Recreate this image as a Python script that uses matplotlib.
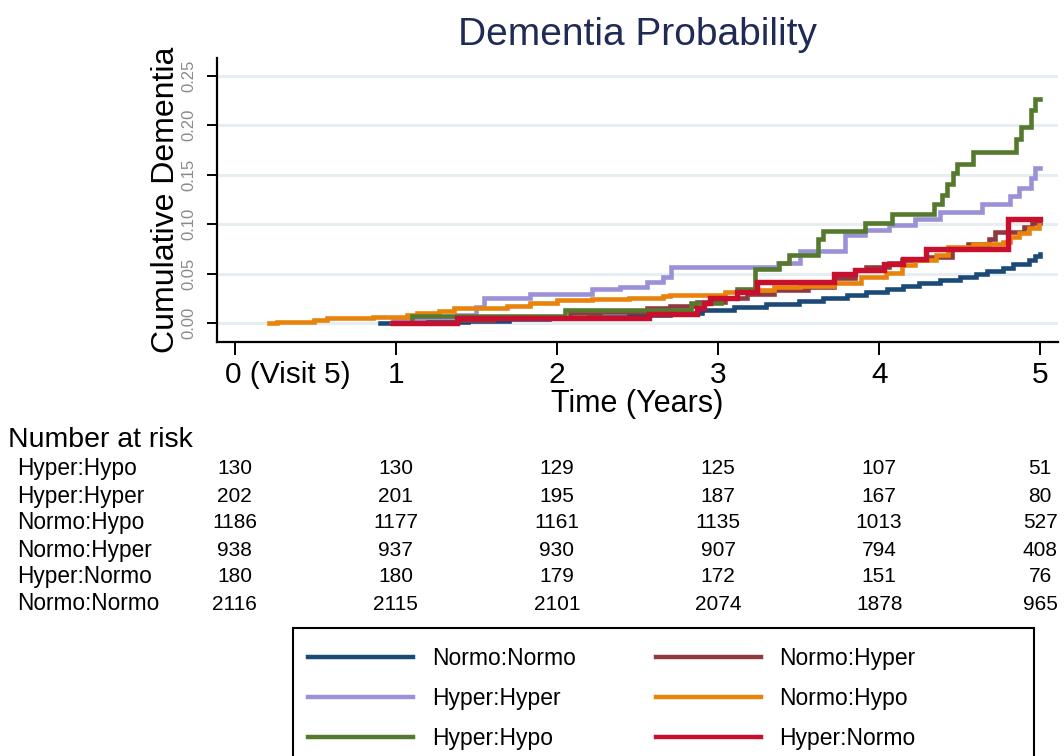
import matplotlib
matplotlib.use("Agg")
import matplotlib.pyplot as plt
import matplotlib.transforms as mtransforms
from matplotlib.patches import Rectangle

plt.rcParams['font.family'] = ['Liberation Sans', 'DejaVu Sans']

# ---------------- data ----------------
groups = ["Normo:Normo", "Hyper:Hyper", "Hyper:Hypo", "Normo:Hyper", "Normo:Hypo", "Hyper:Normo"]
colors = {"Normo:Normo": "#1c4a78", "Hyper:Hyper": "#9a91d8", "Hyper:Hypo": "#557a2e",
          "Normo:Hyper": "#8e3a40", "Normo:Hypo": "#e8830c", "Hyper:Normo": "#c8102e"}

t_nn = [0.90, 1.20, 1.45, 1.70, 1.95, 2.20, 2.45, 2.70, 2.90, 3.10, 3.30, 3.50, 3.65, 3.80, 3.92,
        4.05, 4.15, 4.25, 4.38, 4.50, 4.60, 4.67, 4.77, 4.83, 4.93, 4.97, 5.00]
y_nn = [0.000, 0.001, 0.002, 0.004, 0.005, 0.006, 0.008, 0.010, 0.013, 0.016, 0.019, 0.022, 0.025,
        0.029, 0.032, 0.035, 0.038, 0.041, 0.044, 0.047, 0.050, 0.053, 0.056, 0.060, 0.064, 0.068, 0.070]

t_hh = [0.98, 1.38, 1.50, 1.55, 1.83, 2.22, 2.39, 2.56, 2.66, 2.71, 3.37, 3.51, 3.79, 3.91, 4.06,
        4.22, 4.38, 4.64, 4.81, 4.87, 4.94, 4.97, 5.00]
y_hh = [0.004, 0.008, 0.016, 0.025, 0.030, 0.035, 0.037, 0.042, 0.047, 0.057, 0.061, 0.073, 0.0895,
        0.0946, 0.0997, 0.105, 0.112, 0.120, 0.1285, 0.137, 0.147, 0.157, 0.157]

t_hhypo = [1.00, 1.10, 2.05, 2.83, 3.02, 3.12, 3.23, 3.38, 3.44, 3.62, 3.65, 3.91, 4.08, 4.34, 4.39,
           4.42, 4.46, 4.48, 4.58, 4.85, 4.88, 4.94, 4.97, 5.00]
y_hhypo = [0.000, 0.0074, 0.0135, 0.020, 0.025, 0.035, 0.055, 0.061, 0.069, 0.085, 0.093, 0.101,
           0.110, 0.120, 0.130, 0.141, 0.152, 0.161, 0.173, 0.186, 0.198, 0.215, 0.227, 0.227]

t_nh = [0.97, 1.38, 1.60, 2.08, 2.27, 2.56, 2.70, 2.87, 3.04, 3.18, 3.35, 3.56, 3.72, 3.85, 3.92,
        4.06, 4.14, 4.29, 4.45, 4.55, 4.68, 4.72, 4.90, 4.95, 5.00]
y_nh = [0.000, 0.003, 0.005, 0.010, 0.011, 0.015, 0.0175, 0.0216, 0.025, 0.030, 0.0335, 0.037,
        0.0455, 0.054, 0.057, 0.061, 0.064, 0.067, 0.076, 0.080, 0.085, 0.092, 0.097, 0.101, 0.105]

t_nhypo = [0.21, 0.26, 0.49, 0.57, 0.86, 1.07, 1.13, 1.27, 1.36, 1.69, 1.83, 2.00, 2.22, 2.45, 2.66,
           2.70, 3.04, 3.18, 3.35, 3.51, 3.72, 3.89, 4.04, 4.14, 4.22, 4.35, 4.43, 4.58, 4.77, 4.81,
           4.87, 4.93, 4.99]
y_nhypo = [0.000, 0.001, 0.003, 0.005, 0.006, 0.008, 0.010, 0.012, 0.015, 0.017, 0.020, 0.023, 0.024,
           0.025, 0.027, 0.029, 0.032, 0.034, 0.037, 0.038, 0.041, 0.047, 0.051, 0.059, 0.064, 0.069,
           0.077, 0.080, 0.082, 0.087, 0.091, 0.096, 0.099]

t_hn = [0.98, 1.38, 2.57, 2.87, 2.91, 2.95, 3.12, 3.24, 3.72, 3.85, 4.03, 4.15, 4.29, 4.80, 5.00]
y_hn = [0.000, 0.005, 0.0097, 0.015, 0.020, 0.0257, 0.032, 0.042, 0.0496, 0.054, 0.060, 0.065,
        0.075, 0.105, 0.105]

curves = {"Normo:Normo": (t_nn, y_nn), "Hyper:Hyper": (t_hh, y_hh), "Hyper:Hypo": (t_hhypo, y_hhypo),
          "Normo:Hyper": (t_nh, y_nh), "Normo:Hypo": (t_nhypo, y_nhypo), "Hyper:Normo": (t_hn, y_hn)}

x_ticks = [0, 1, 2, 3, 4, 5]
x_ticklabels = ["0 (Visit 5)", "1", "2", "3", "4", "5"]
y_ticks = [0.00, 0.05, 0.10, 0.15, 0.20, 0.25]

risk_groups = ["Hyper:Hypo", "Hyper:Hyper", "Normo:Hypo", "Normo:Hyper", "Hyper:Normo", "Normo:Normo"]
risk_hyper_hypo = [130, 130, 129, 125, 107, 51]
risk_hyper_hyper = [202, 201, 195, 187, 167, 80]
risk_normo_hypo = [1186, 1177, 1161, 1135, 1013, 527]
risk_normo_hyper = [938, 937, 930, 907, 794, 408]
risk_hyper_normo = [180, 180, 179, 172, 151, 76]
risk_normo_normo = [2116, 2115, 2101, 2074, 1878, 965]
risk_values = [risk_hyper_hypo, risk_hyper_hyper, risk_normo_hypo, risk_normo_hyper,
               risk_hyper_normo, risk_normo_normo]

# ---------------- figure ----------------
W, H = 1064, 756
fig = plt.figure(figsize=(W / 100, H / 100), dpi=100)
ax = fig.add_axes([217 / W, 1 - 342 / H, (1058 - 217) / W, (342 - 58) / H])

zorders = {"Hyper:Hyper": 2, "Normo:Normo": 3, "Normo:Hyper": 3, "Normo:Hypo": 4,
           "Hyper:Hypo": 5, "Hyper:Normo": 6}
lws = {g: 3.3 for g in groups}
lws["Hyper:Normo"] = 3.9
lines = {}
for g in groups:
    t, y = curves[g]
    ln, = ax.plot(t, y, drawstyle='steps-post', color=colors[g], lw=lws[g],
                  zorder=zorders[g], label=g, solid_joinstyle='miter')
    lines[g] = ln

ax.set_xlim(-0.11, 5.11)
ax.set_ylim(-0.019, 0.268)
ax.set_xticks(x_ticks)
# the first label ("0 (Visit 5)") is drawn separately so that the "0" sits on its tick
ax.set_xticklabels([""] + x_ticklabels[1:], fontsize=21.5)
ax.annotate(x_ticklabels[0], xy=(x_ticks[0], 0), xycoords=('data', 'axes fraction'),
            xytext=(-10, -19), textcoords='offset pixels', ha='left', va='top',
            fontsize=21.5, annotation_clip=False)
ax.set_yticks(y_ticks)
ax.set_yticklabels([f"{v:.2f}" for v in y_ticks], fontsize=12, color="#8a8a8a", rotation=90,
                   va='center')
for yv in y_ticks:
    ax.axhline(yv, color="#e6eef1", lw=2.2, zorder=0)

for s in ["top", "right"]:
    ax.spines[s].set_visible(False)
for s in ["left", "bottom"]:
    ax.spines[s].set_linewidth(1.6)
ax.tick_params(axis='x', length=9, width=1.4, pad=5)
ax.tick_params(axis='y', length=7, width=1.4, pad=8)

ax.set_xlabel("Time (Years)", fontsize=22, labelpad=0)
ax.set_ylabel("Cumulative Dementia", fontsize=23, labelpad=0)
fig.text(637 / W, 1 - 35 / H, "Dementia Probability", fontsize=28, color="#1f2a55",
         ha='center', va='center')

# ---------------- number at risk table ----------------
fig.text(8 / W, 1 - 440 / H, "Number at risk", fontsize=20.5, ha='left', va='center')
blend = mtransforms.blended_transform_factory(ax.transData, fig.transFigure)
row_y = [469, 496, 523, 550, 577, 604]
for name, vals, ry in zip(risk_groups, risk_values, row_y):
    fig.text(17 / W, 1 - ry / H, name, fontsize=16.3, ha='left', va='center')
    for xv, v in zip(x_ticks, vals):
        ax.text(xv, 1 - ry / H, str(v), fontsize=15, ha='center', va='center',
                transform=blend, clip_on=False)

# ---------------- legend ----------------
order = ["Normo:Normo", "Hyper:Hyper", "Hyper:Hypo", "Normo:Hyper", "Normo:Hypo", "Hyper:Normo"]
leg = fig.legend([lines[g] for g in order], order, loc='upper left',
                 bbox_to_anchor=(293 / W, 1 - 632 / H), ncol=2, frameon=False,
                 fontsize=16.5, handlelength=4.6, handletextpad=0.8, columnspacing=3.5,
                 labelspacing=0.75, borderpad=0.65, borderaxespad=0)
for lh in leg.get_lines():
    lh.set_linewidth(3.2)
fig.patches.append(Rectangle((293 / W, -0.02), (1034 - 293) / W, (1 - 628 / H) + 0.02,
                             transform=fig.transFigure, fill=False, edgecolor='black',
                             lw=1.5, zorder=10))

fig.savefig("out.png", dpi=100)
